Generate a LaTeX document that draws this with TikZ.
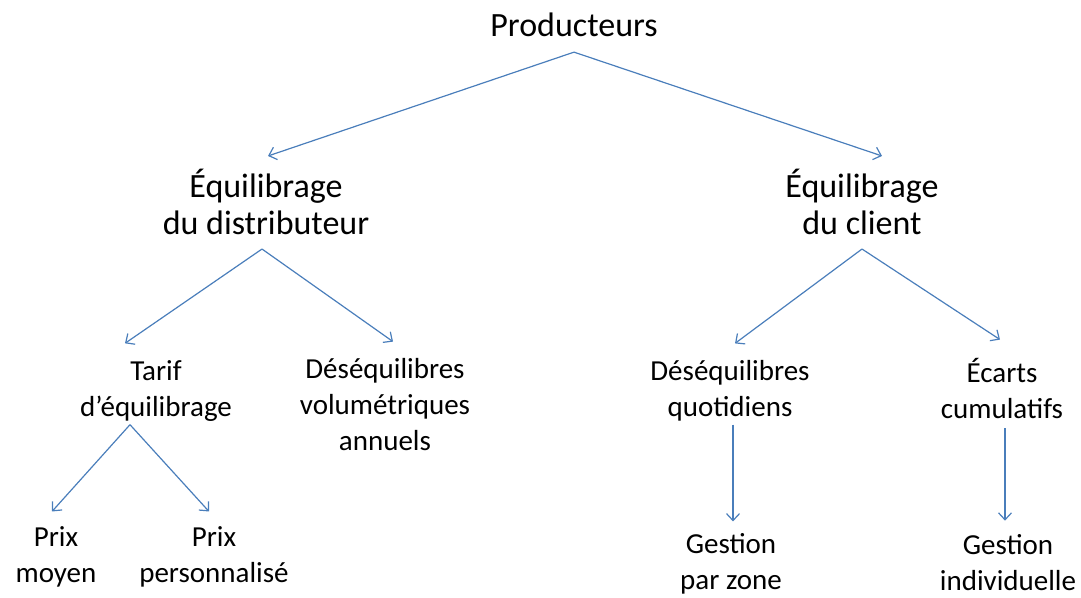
\documentclass[tikz,border=0pt]{standalone}
\usepackage{fontspec}
\setmainfont{Carlito}
\usepackage{xcolor}
\usetikzlibrary{calc,arrows.meta}
\tikzset{>={Straight Barb[length=7pt,width=13pt]}}
\definecolor{linkblue}{HTML}{4A7EBB}
\tikzset{
  big/.style={align=center, inner sep=0pt, font=\fontsize{34}{37}\selectfont},
  small/.style={align=center, inner sep=0pt, font=\fontsize{29}{36}\selectfont},
  link/.style={->, linkblue, line width=1.2pt},
}

\begin{document}
\begin{tikzpicture}[x=1pt, y=-1pt]
      \useasboundingbox (0, 0) rectangle (1081, 597);
      \node[big] (prod) at (574, 25) {Producteurs};
      \node[big] (dist) at (266, 202) {Équilibrage\\du distributeur};
      \node[big] (client) at (862, 202) {Équilibrage\\du client};
      \node[small] (tarif) at (156, 391) {Tarif\\d’équilibrage};
      \node[small] (annuel) at (385, 405) {Déséquilibres\\volumétriques\\annuels};
      \node[small] (quot) at (730, 391) {Déséquilibres\\quotidiens};
      \node[small] (ecarts) at (1002, 388) {Écarts\\cumulatifs};
      \node[small] (moyen) at (56, 557) {Prix\\moyen};
      \node[small] (perso) at (214, 557) {Prix\\personnalisé};
      \node[small] (zone) at (731, 564) {Gestion\\par zone};
      \node[small] (indiv) at (1008, 563) {Gestion\\individuelle};
      % top level
      \draw[link] ($(prod.south)+(0, 15)$) -- ($(dist.north)+(2, -13)$);
      \draw[link] ($(prod.south)+(0, 15)$) -- ($(client.north)+(20, -13)$);
      % distributeur
      \draw[link] ($(dist.south)+(-4, 14)$) -- ($(tarif.north)+(-31, -17)$);
      \draw[link] ($(dist.south)+(-4, 14)$) -- ($(annuel.north)+(8, -17)$);
      % client
      \draw[link] ($(client.south)+(0, 14)$) -- ($(quot.north)+(5, -17)$);
      \draw[link] ($(client.south)+(0, 14)$) -- ($(ecarts.north)+(-2, -18)$);
      % bottom level
      \draw[link] ($(tarif.south)+(-26, 3)$) -- ($(moyen.north)+(-4, -15)$);
      \draw[link] ($(tarif.south)+(-26, 3)$) -- ($(perso.north)+(-5, -15)$);
      \draw[link] ($(quot.south)+(3, 3)$) -- ($(zone.north)+(2, -12)$);
      \draw[link] ($(ecarts.south)+(3, 10)$) -- ($(indiv.north)+(-3, -14)$);
\end{tikzpicture}
\end{document}
